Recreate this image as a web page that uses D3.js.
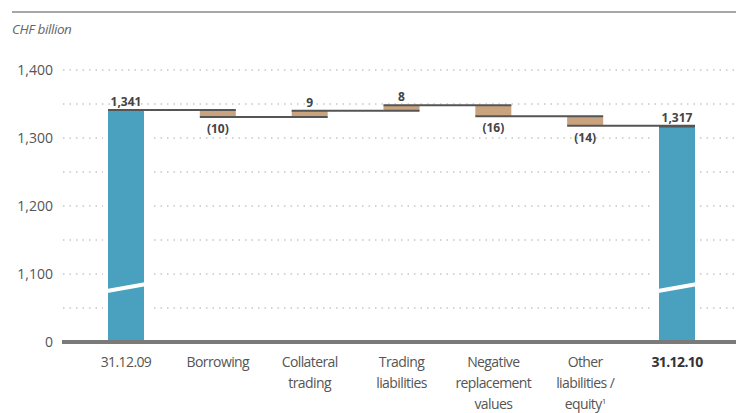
<!DOCTYPE html>
<html><head><meta charset="utf-8">
<script src="https://cdn.jsdelivr.net/npm/d3@7"></script>
<style>
body{margin:0;background:#fff;}
svg text{font-family:"Open Sans","Noto Sans",sans-serif;}
</style></head>
<body>
<svg id="c" width="736" height="413"></svg>
<script>
const categories = [["31.12.09"],["Borrowing"],["Collateral","trading"],["Trading","liabilities"],["Negative","replacement","values"],["Other","liabilities /","equity¹"],["31.12.10"]];
const kinds = ["total","delta","delta","delta","delta","delta","total"];
const values = [1341,-10,9,8,-16,-14,1317];
const valueLabels = ["1,341","(10)","9","8","(16)","(14)","1,317"];
const yTicks = [1000,1100,1200,1300,1400];
const yTickLabels = ["0","1,100","1,200","1,300","1,400"];
const gridValues = [1050,1100,1150,1200,1250,1300,1350,1400];

const svg = d3.select("#c");
const W = 736;
const y = d3.scaleLinear().domain([1000,1400]).range([342,70]);
const x = d3.scaleBand().domain(d3.range(categories.length)).range([108,695]).paddingInner(0.608).paddingOuter(0);

// top rule
svg.append("line").attr("x1",12).attr("x2",W).attr("y1",12).attr("y2",12).attr("stroke","#8a8a8a").attr("stroke-width",1.5);
svg.append("text").attr("x",12).attr("y",34).attr("font-size",13.5).attr("font-style","italic").attr("fill","#666").attr("letter-spacing",-0.4).text("CHF billion");

// grid
svg.append("g").selectAll("line").data(gridValues).join("line")
  .attr("x1",63).attr("x2",W).attr("y1",d=>y(d)).attr("y2",d=>y(d))
  .attr("stroke","#aaa").attr("stroke-width",1).attr("stroke-dasharray","1.5,5");

// y labels
svg.append("g").selectAll("text").data(yTicks).join("text")
  .attr("x",53).attr("y",d=>y(d)+5).attr("text-anchor","end").attr("font-size",14).attr("fill","#555")
  .text((d,i)=>yTickLabels[i]);

// compute waterfall
let running = 0;
const bars = values.map((v,i)=>{
  let b;
  if(kinds[i]==="total"){ b={i,start:1000,end:v,level:v}; running=v; }
  else { b={i,start:running,end:running+v,level:running+v}; running+=v; }
  return b;
});

// white halos behind total bars
svg.append("g").selectAll("rect").data(bars.filter(b=>kinds[b.i]==="total")).join("rect")
  .attr("x",b=>x(b.i)-5).attr("width",x.bandwidth()+10)
  .attr("y",b=>y(b.end)).attr("height",b=>y(1000)-y(b.end)).attr("fill","#fff");

// bars
svg.append("g").selectAll("rect").data(bars).join("rect")
  .attr("x",b=>x(b.i)).attr("width",x.bandwidth())
  .attr("y",b=>y(Math.max(b.start,b.end))).attr("height",b=>Math.abs(y(b.start)-y(b.end)))
  .attr("fill",b=>kinds[b.i]==="total"?"#4aa0bf":"#c9a27e");

// break marks on total bars
const bw = x.bandwidth();
svg.append("g").selectAll("path").data(bars.filter(b=>kinds[b.i]==="total")).join("path")
  .attr("d",b=>{const x0=x(b.i)-1, x1=x(b.i)+bw+1; return `M${x0},${y(1075)} L${x1},${y(1085)}`;})
  .attr("stroke","#fff").attr("stroke-width",4);

// connector lines
const conn = [];
bars.forEach((b,i)=>{ if(i<bars.length-1) conn.push({x1:x(i), x2:x(i+1)+bw, level:b.level}); });
svg.append("g").selectAll("line").data(conn).join("line")
  .attr("x1",c=>c.x1).attr("x2",c=>c.x2).attr("y1",c=>y(c.level)).attr("y2",c=>y(c.level))
  .attr("stroke","#555").attr("stroke-width",2);
// top line on last total bar
svg.append("line").attr("x1",x(6)).attr("x2",x(6)+bw).attr("y1",y(bars[6].end)).attr("y2",y(bars[6].end)).attr("stroke","#555").attr("stroke-width",2);

// value labels
svg.append("g").selectAll("text").data(bars).join("text")
  .attr("x",b=>x(b.i)+bw/2)
  .attr("y",b=> values[b.i]<0 ? y(Math.min(b.start,b.end))+16 : y(Math.max(b.start,b.end))-4)
  .attr("text-anchor","middle").attr("font-size",12).attr("font-weight","bold").attr("fill","#444")
  .text(b=>valueLabels[b.i]);

// x axis line
svg.append("line").attr("x1",62).attr("x2",W).attr("y1",y(1000)).attr("y2",y(1000)).attr("stroke","#7a7a7a").attr("stroke-width",4);

// x labels
const xl = svg.append("g").selectAll("text").data(categories).join("text")
  .attr("x",(d,i)=>x(i)+bw/2).attr("y",367).attr("text-anchor","middle").attr("font-size",14)
  .attr("fill",(d,i)=>i===6?"#333":"#555").attr("font-weight",(d,i)=>i===6?"bold":"normal")
  .attr("letter-spacing",-0.6);
xl.each(function(lines){
  const t=d3.select(this);
  lines.forEach((l,k)=>{
    if(l.endsWith("¹")){
      t.append("tspan").attr("x",+t.attr("x")).attr("dy",k===0?0:21).text(l.slice(0,-1));
      t.append("tspan").attr("dy",-5).attr("font-size",8).text("1");
    } else {
      t.append("tspan").attr("x",+t.attr("x")).attr("dy",k===0?0:21).text(l);
    }
  });
});
</script>
</body></html>
